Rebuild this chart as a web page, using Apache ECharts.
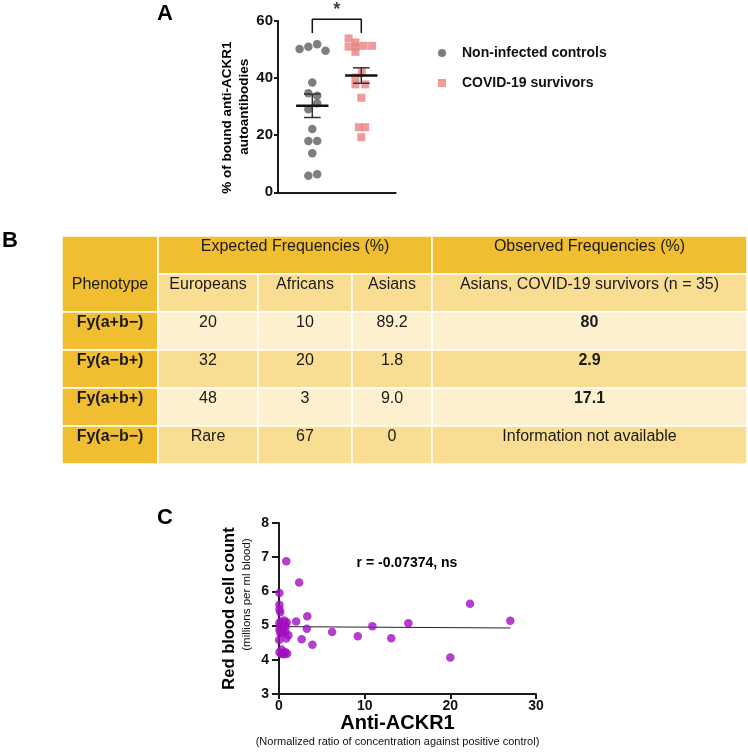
<!DOCTYPE html>
<html>
<head>
<meta charset="utf-8">
<script src="https://cdn.jsdelivr.net/npm/echarts@6/dist/echarts.min.js"></script>
<style>
  html, body { margin: 0; padding: 0; background: #fff; }
  #chart { width: 748px; height: 753px; }
</style>
</head>
<body>
<div id="chart"></div>
<script>
var FONT = '"Liberation Sans", Arial, sans-serif';

// ---- panel A : % bound anti-ACKR1 autoantibodies
var controlX = [0.74, 0.92, 1.10, 1.27, 1.00, 0.92, 1.10, 1.10, 0.92, 1.00, 0.92, 1.10, 1.00, 0.92, 1.10];
var controlY = [50.2, 51.0, 51.9, 49.6, 38.5, 34.7, 33.8, 31.2, 29.1, 22.2, 18.0, 18.0, 13.7, 5.8, 6.3];
var survivorX = [1.74, 1.88, 1.74, 1.89, 2.05, 2.22, 1.88, 2.01, 1.88, 1.88, 2.08, 2.00, 1.95, 2.08, 2.00];
var survivorY = [53.9, 52.5, 51.0, 51.0, 51.3, 51.3, 49.2, 42.0, 40.2, 37.8, 37.8, 33.1, 22.8, 22.8, 19.3];
var groupPos = [1, 2];
var groupMean = [30.3, 40.9];
var groupSem = [4.1, 2.7];
var bracketTop = 60.6, bracketFoot = 55.8;

// ---- panel B : Duffy phenotype table
var tableHead = ['Phenotype', 'Expected Frequencies (%)', 'Observed Frequencies (%)'];
var populations = ['Europeans', 'Africans', 'Asians', 'Asians, COVID-19 survivors (n = 35)'];
var phenotypes = ['Fy(a+b\u2212)', 'Fy(a\u2212b+)', 'Fy(a+b+)', 'Fy(a\u2212b\u2212)'];
var europeans = ['20', '32', '48', 'Rare'];
var africans = ['10', '20', '3', '67'];
var asians = ['89.2', '1.8', '9.0', '0'];
var observed = ['80', '2.9', '17.1', 'Information not available'];

// ---- panel C : RBC count vs anti-ACKR1
var antiAckr1 = [0.85, 2.35, 0.05, 0.05, 0.05, 0.15, 22.3, 27.0, 3.3, 2.0, 3.25, 6.2, 10.9, 15.1, 9.2, 13.1, 2.65, 3.9, 20.0,
  0.05, 0.15, 0.25, 0.35, 0.45, 0.6, 0.7, 0.8, 0.9, 0.3, 0.15, 0.5, 0.75, 0.05, 1.1, 0.85, 0.02, 0.05, 0.3, 0.45, 0.6, 0.75, 0.95, 0.25];
var rbcCount = [6.88, 6.26, 5.95, 5.61, 5.47, 5.39, 5.64, 5.14, 5.27, 5.12, 4.91, 4.81, 4.98, 5.07, 4.69, 4.63, 4.60, 4.44, 4.07,
  5.08, 4.98, 5.12, 5.02, 4.92, 5.15, 5.05, 4.98, 5.10, 4.85, 4.78, 4.78, 4.82, 4.88, 4.72, 4.62, 4.58, 4.22, 4.30, 4.20, 4.16, 4.22, 4.18, 4.17];
var fitX = [0, 27];
var fitY = [4.97, 4.93];

function zip(a, b) {
  return a.map(function (v, i) { return [v, b[i]]; });
}

var axisColor = '#1a1a1a';
var tickLabel = { fontFamily: FONT, fontWeight: 'bold', fontSize: 14, color: '#111' };

// table built from the arrays above
var colEdge = [62, 158, 258, 352, 432, 747];
var rowEdge = [236, 274, 312, 350, 388, 426, 464];
var GOLD = '#F0BE30', MID = '#F8DD93', PALE = '#FCF0CE';
var graphics = [];

function cell(c0, c1, r0, r1, fill, text, bold, textRow) {
  graphics.push({
    type: 'rect', z: 1,
    shape: { x: colEdge[c0], y: rowEdge[r0], width: colEdge[c1] - colEdge[c0], height: rowEdge[r1] - rowEdge[r0] },
    style: { fill: fill, stroke: '#fff', lineWidth: 1.5 }
  });
  graphics.push({
    type: 'text', z: 2,
    x: (colEdge[c0] + colEdge[c1]) / 2,
    y: rowEdge[textRow] + 10.5,
    style: {
      text: text, fill: '#1a1a1a', font: (bold ? 'bold ' : '') + '16px ' + FONT,
      align: 'center', verticalAlign: 'middle', textAlign: 'center', textVerticalAlign: 'middle'
    }
  });
}

cell(0, 1, 0, 2, GOLD, tableHead[0], false, 1);
cell(1, 4, 0, 1, GOLD, tableHead[1], false, 0);
cell(4, 5, 0, 1, GOLD, tableHead[2], false, 0);
populations.forEach(function (p, i) {
  cell(i + 1, i + 2, 1, 2, MID, p, false, 1);
});
phenotypes.forEach(function (p, r) {
  var row = r + 2;
  var fill = r % 2 === 0 ? PALE : MID;
  cell(0, 1, row, row + 1, GOLD, p, true, row);
  cell(1, 2, row, row + 1, fill, europeans[r], false, row);
  cell(2, 3, row, row + 1, fill, africans[r], false, row);
  cell(3, 4, row, row + 1, fill, asians[r], false, row);
  cell(4, 5, row, row + 1, fill, observed[r], !isNaN(parseFloat(observed[r])), row);
});

// panel letters and annotation
function label(text, x, y, size, weight) {
  graphics.push({
    type: 'text', z: 5, x: x, y: y,
    style: {
      text: text, fill: '#000', font: weight + ' ' + size + 'px ' + FONT,
      align: 'left', verticalAlign: 'middle', textAlign: 'left', textVerticalAlign: 'middle'
    }
  });
}
label('A', 157, 14, 22, 'bold');
label('B', 2, 241, 22, 'bold');
label('C', 157, 518, 22, 'bold');
graphics.push({
  type: 'text', z: 5, x: 407, y: 563,
  style: {
    text: 'r = -0.07374, ns', fill: '#000', font: 'bold 14px ' + FONT,
    align: 'center', verticalAlign: 'middle', textAlign: 'center', textVerticalAlign: 'middle'
  }
});

var chart = echarts.init(document.getElementById('chart'));

chart.setOption({
  backgroundColor: '#fff',
  animation: false,
  textStyle: { fontFamily: FONT },
  grid: [
    { left: 278, top: 21, width: 117.6, height: 171.3 },
    { left: 279, top: 523, width: 257, height: 171 }
  ],
  legend: {
    orient: 'vertical',
    left: 433, top: 41,
    itemWidth: 30, itemHeight: 8, itemGap: 16,
    symbolKeepAspect: true,
    textStyle: { fontFamily: FONT, fontWeight: 'bold', fontSize: 14, color: '#111' },
    data: [
      { name: 'Non-infected controls', icon: 'circle' },
      { name: 'COVID-19 survivors', icon: 'path://M0 0H10V10H0Z' }
    ]
  },
  xAxis: [{
    gridIndex: 0, type: 'value', min: 0.3, max: 2.7,
    axisLine: { onZero: false, lineStyle: { color: axisColor, width: 2 } },
    axisTick: { show: false }, axisLabel: { show: false }, splitLine: { show: false }
  }, {
    gridIndex: 1, type: 'value', min: 0, max: 30, interval: 10,
    axisLine: { onZero: false, lineStyle: { color: axisColor, width: 2 } },
    axisTick: { length: 5, lineStyle: { width: 2, color: axisColor } },
    axisLabel: Object.assign({ margin: 5 }, tickLabel),
    splitLine: { show: false },
    name: '{t|Anti-ACKR1}\n{s|(Normalized ratio of concentration against positive control)}',
    nameLocation: 'middle', nameGap: 20, nameMoveOverlap: false,
    nameTextStyle: {
      rich: {
        t: { fontFamily: FONT, fontWeight: 'bold', fontSize: 20, lineHeight: 19, color: '#000', padding: [0, 20, 0, 0] },
        s: { fontFamily: FONT, fontSize: 11, lineHeight: 18, color: '#111', padding: [0, 20, 0, 0] }
      }
    }
  }],
  yAxis: [{
    gridIndex: 0, type: 'value', min: 0, max: 60, interval: 20,
    axisLine: { show: true, onZero: false, lineStyle: { color: axisColor, width: 2 } },
    axisTick: { show: true, length: 4, lineStyle: { width: 2, color: axisColor } },
    axisLabel: Object.assign({}, tickLabel, { margin: 5, fontSize: 15 }),
    splitLine: { show: false },
    name: '{a|% of bound anti-ACKR1}\n{t|autoantibodies}',
    nameLocation: 'middle', nameGap: 25, nameMoveOverlap: false,
    nameTextStyle: {
      rich: {
        a: { fontFamily: FONT, fontWeight: 'bold', fontSize: 13.5, lineHeight: 17, color: '#000', padding: [0, 22, 0, 0] },
        t: { fontFamily: FONT, fontWeight: 'bold', fontSize: 13.5, lineHeight: 17, color: '#000' }
      }
    }
  }, {
    gridIndex: 1, type: 'value', min: 3, max: 8, interval: 1,
    axisLine: { show: true, onZero: false, lineStyle: { color: axisColor, width: 2 } },
    axisTick: { show: true, length: 7, lineStyle: { width: 2, color: axisColor } },
    axisLabel: Object.assign({ margin: 10 }, tickLabel),
    splitLine: { show: false },
    name: '{t|Red blood cell count}\n{s|(millions per ml blood)}',
    nameLocation: 'middle', nameGap: 24, nameMoveOverlap: false,
    nameTextStyle: {
      rich: {
        t: { fontFamily: FONT, fontWeight: 'bold', fontSize: 16.5, lineHeight: 18, color: '#000' },
        s: { fontFamily: FONT, fontSize: 11.5, lineHeight: 17, color: '#111', padding: [0, 0, 0, 28] }
      }
    }
  }],
  series: [{
    name: 'Non-infected controls', type: 'scatter', xAxisIndex: 0, yAxisIndex: 0,
    symbol: 'circle', symbolSize: 8.5,
    itemStyle: { color: '#5E5E5E' },
    data: zip(controlX, controlY)
  }, {
    name: 'COVID-19 survivors', type: 'scatter', xAxisIndex: 0, yAxisIndex: 0,
    symbol: 'rect', symbolSize: 8,
    itemStyle: { color: '#E8837F' },
    data: zip(survivorX, survivorY)
  }, {
    // mean +/- SEM
    type: 'custom', xAxisIndex: 0, yAxisIndex: 0, z: 5,
    data: groupPos.map(function (p, i) { return [p, groupMean[i], groupSem[i]]; }),
    renderItem: function (params, api) {
      var x = api.value(0), m = api.value(1), s = api.value(2);
      var meanL = api.coord([x - 0.33, m]), meanR = api.coord([x + 0.33, m]);
      var hi = api.coord([x, m + s]), lo = api.coord([x, m - s]);
      var capHL = api.coord([x - 0.17, m + s]), capHR = api.coord([x + 0.17, m + s]);
      var capLL = api.coord([x - 0.17, m - s]), capLR = api.coord([x + 0.17, m - s]);
      var thin = { stroke: '#333', lineWidth: 1.5 };
      return {
        type: 'group',
        children: [
          { type: 'line', shape: { x1: hi[0], y1: hi[1], x2: lo[0], y2: lo[1] }, style: thin },
          { type: 'line', shape: { x1: capHL[0], y1: capHL[1], x2: capHR[0], y2: capHR[1] }, style: thin },
          { type: 'line', shape: { x1: capLL[0], y1: capLL[1], x2: capLR[0], y2: capLR[1] }, style: thin },
          { type: 'line', shape: { x1: meanL[0], y1: meanL[1], x2: meanR[0], y2: meanR[1] }, style: { stroke: '#111', lineWidth: 2.5 } }
        ]
      };
    }
  }, {
    // significance bracket
    type: 'line', xAxisIndex: 0, yAxisIndex: 0, clip: false, silent: true,
    symbol: 'none', lineStyle: { color: '#111', width: 1.5 },
    data: [[groupPos[0], bracketFoot], [groupPos[0], bracketTop], [groupPos[1], bracketTop], [groupPos[1], bracketFoot]]
  }, {
    type: 'scatter', xAxisIndex: 0, yAxisIndex: 0, clip: false, silent: true,
    symbolSize: 0,
    label: { show: true, position: 'top', distance: 0, formatter: '*', fontFamily: FONT, fontWeight: 'bold', fontSize: 18, color: '#111' },
    data: [[(groupPos[0] + groupPos[1]) / 2, bracketTop]]
  }, {
    type: 'scatter', xAxisIndex: 1, yAxisIndex: 1,
    symbol: 'circle', symbolSize: 8.5,
    itemStyle: { color: '#A20FBF' },
    data: zip(antiAckr1, rbcCount)
  }, {
    type: 'line', xAxisIndex: 1, yAxisIndex: 1, silent: true,
    symbol: 'none', lineStyle: { color: '#222', width: 1 }, z: 1,
    data: zip(fitX, fitY)
  }],
  graphic: graphics
});
</script>
</body>
</html>
